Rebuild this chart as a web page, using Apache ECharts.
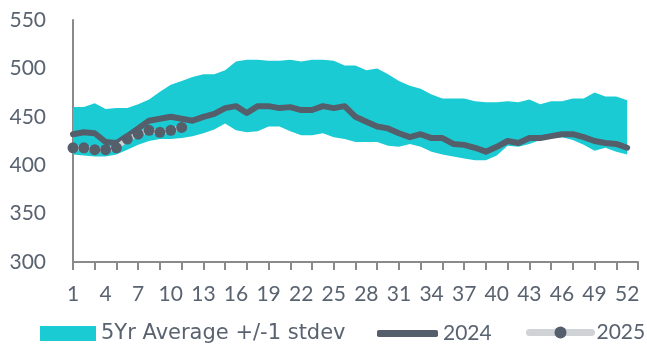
<!DOCTYPE html>
<html>
<head>
<meta charset="utf-8">
<script src="https://cdn.jsdelivr.net/npm/echarts@6/dist/echarts.min.js"></script>
<style>
html,body{margin:0;padding:0;background:#fff;}
#c{width:647px;height:351px;}
</style>
</head>
<body>
<div id="c"></div>
<script>
var weeks = ['1','2','3','4','5','6','7','8','9','10','11','12','13','14','15','16','17','18','19','20','21','22','23','24','25','26','27','28','29','30','31','32','33','34','35','36','37','38','39','40','41','42','43','44','45','46','47','48','49','50','51','52',''];
var bandLower = [411,410,409,409,411,416,421,425,427,427,428,430,433,437,443,436,434,435,440,440,435,431,431,433,429,427,424,424,424,420,419,422,419,414,411,409,407,405,405,410,420,419,422,426,428,429,426,421,415,418,414,411];
var bandUpper = [460,460,464,458,459,459,463,468,476,483,487,491,494,494,498,507,509,509,508,508,509,507,509,509,508,503,503,498,500,494,487,482,479,473,469,469,469,466,465,465,466,465,468,463,466,466,469,469,475,471,471,467];
var s2024 = [432,434,433,424,423,430,438,446,448,450,448,446,450,453,459,461,454,461,461,459,460,457,457,461,459,461,450,445,440,438,433,429,432,428,428,422,421,418,414,419,425,423,428,428,430,432,432,429,425,423,422,418];
var s2025 = [418,418,416,416,418,427,432,436,434,436,439];
var yTicks = [300,350,400,450,500,550];

var bandWidth = bandUpper.map(function(u,i){return u - bandLower[i];});
var txt = '#596370';
var font = 'Lato';
var chart = echarts.init(document.getElementById('c'), null, {renderer:'canvas'});
chart.setOption({
  animation:false,
  grid:{left:73,right:9,top:20,bottom:89,containLabel:false},
  xAxis:{
    type:'category', data:weeks, boundaryGap:false,
    axisLine:{show:true,lineStyle:{color:'#8a8a8a',width:2}},
    axisTick:{show:true,interval:function(i){return i%2===0;},length:8,lineStyle:{color:'#8a8a8a',width:2}},
    axisLabel:{interval:function(i){return i%3===0;},hideOverlap:false,color:txt,fontFamily:font,fontSize:21,margin:22},
    splitLine:{show:false}
  },
  yAxis:{
    type:'value', min:yTicks[0], max:yTicks[yTicks.length-1], interval:50,
    axisLine:{show:true,lineStyle:{color:'#8a8a8a',width:2}},
    axisTick:{show:false},
    splitLine:{show:false},
    axisLabel:{color:txt,fontFamily:font,fontSize:21,margin:27}
  },
  legend:[
    {data:[{name:'5Yr Average +/-1 stdev',icon:'rect'}],left:40,top:323,padding:0,itemWidth:56,itemHeight:15,
     textStyle:{color:txt,fontFamily:'DejaVu Sans',fontSize:21}},
    {data:[{name:'2024',icon:'roundRect'}],left:377,top:323,padding:0,itemWidth:61,itemHeight:7,
     itemStyle:{color:'#555f6b'},textStyle:{color:txt,fontFamily:font,fontSize:21}},
    {data:['2025'],left:526,top:322,padding:0,itemWidth:62,itemHeight:15,
     lineStyle:{width:7,color:'#cfd3d6',cap:'round'},textStyle:{color:txt,fontFamily:font,fontSize:21}}
  ],
  series:[
    {name:'lower',type:'line',stack:'band',data:bandLower,symbol:'none',lineStyle:{opacity:0},areaStyle:{opacity:0},silent:true},
    {name:'5Yr Average +/-1 stdev',type:'line',stack:'band',data:bandWidth,symbol:'none',
     itemStyle:{color:'#1bcbd4'},lineStyle:{opacity:0},areaStyle:{color:'#1bcbd4',opacity:1}},
    {name:'2024',type:'line',data:s2024,symbol:'none',itemStyle:{color:'#555f6b'},
     lineStyle:{color:'#555f6b',width:6,cap:'round',join:'round'}},
    {name:'2025',type:'line',data:s2025,symbol:'circle',symbolSize:11,showSymbol:true,showAllSymbol:true,
     itemStyle:{color:'#555f6b'},lineStyle:{color:'#cfd3d6',width:5}}
  ]
});
</script>
</body>
</html>
